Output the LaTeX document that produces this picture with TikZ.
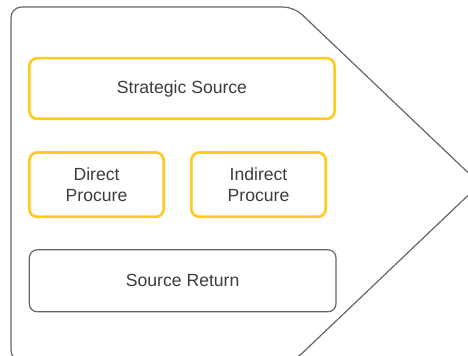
\documentclass[tikz,border=0pt]{standalone}
\usepackage{fontspec}
\setmainfont{Liberation Sans}
\usepackage{xcolor}
\usepackage{tikz}
\usetikzlibrary{positioning}

\definecolor{procyellow}{HTML}{FFCB1F}
\definecolor{edgegrey}{HTML}{63666B}
\definecolor{labelgrey}{HTML}{3A3C40}

\begin{document}
\begin{tikzpicture}[
    x=0.75pt, y=-0.75pt,
    proc/.style={rectangle, draw=procyellow, line width=2pt, rounded corners=6pt, outer sep=0pt, inner sep=0pt, align=center, text=labelgrey, font=\fontsize{13.2}{16.3}\selectfont},
    retn/.style={proc, draw=edgegrey, line width=0.9pt}
]
    \useasboundingbox (0,0) rectangle (468,356);
    % chevron backdrop, cut by the frame
    \begin{scope}
        \clip (0,0) rectangle (468,356);
        \draw[edgegrey, line width=0.9pt, rounded corners=8pt]
            (11,361) -- (11,7) -- (294,7) -- (480,184) -- (294,361) -- cycle;
    \end{scope}

    \node[proc, minimum width=229pt, minimum height=45.5pt] (strat) at (182,88.5) {Strategic Source};
    \node[proc, minimum width=100.8pt, minimum height=48.3pt, below=25.2pt of strat.south west, anchor=north west] (direct) {Direct\\Procure};
    \node[proc, minimum width=100.8pt, minimum height=48.3pt, right=20.7pt of direct] (indirect) {Indirect\\Procure};
    \node[retn, minimum width=230pt, minimum height=46.5pt, below=24.7pt of direct.south west, anchor=north west] (ret) {Source Return};
\end{tikzpicture}
\end{document}
